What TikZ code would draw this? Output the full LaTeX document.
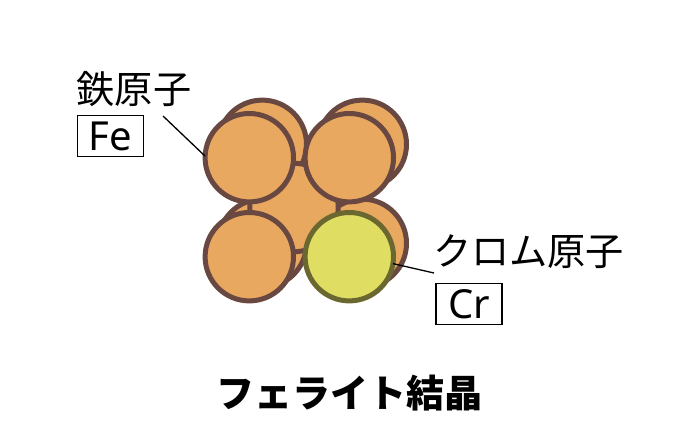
\documentclass[tikz,border=0pt]{standalone}
\usepackage{fontspec}
\setmainfont{Noto Sans}
\newfontfamily\cjk{Noto Sans CJK JP}
\definecolor{atomfe}{HTML}{E9A860}
\definecolor{edgefe}{HTML}{684840}
\definecolor{atomcr}{HTML}{DFDE62}
\definecolor{edgecr}{HTML}{6A6830}
\tikzset{
  atom/.style={circle,draw=edgefe,fill=atomfe,line width=5pt,minimum size=88.4pt,inner sep=0pt,outer sep=0pt},
  cratom/.style={atom,draw=edgecr,fill=atomcr},
  label jp/.style={inner sep=0pt,font=\fontsize{38.2}{38.2}\selectfont\cjk},
  title jp/.style={inner sep=0pt,font=\fontsize{38}{38}\selectfont\bfseries\cjk},
  elem/.style={draw=black,line width=1.1pt,minimum width=66pt,minimum height=40.5pt,inner sep=0pt,font=\fontsize{40}{40}\selectfont},
  leader/.style={draw=black,line width=1.3pt}
}
\begin{document}
\begin{tikzpicture}[x=1pt,y=-1pt]
\useasboundingbox (0,0) rectangle (700,440);
\node[atom] (b1) at (262.3,144.3) {};
\node[atom] (b2) at (362.3,144.3) {};
\node[atom] (b3) at (262.3,243.3) {};
\node[atom] (b4) at (362.3,243.3) {};
\node[atom] (ctr) at (294,207.5) {};
\node[atom] (f1) at (249.3,157.7) {};
\node[atom] (f2) at (349.3,157.7) {};
\node[atom] (f3) at (249.3,256.7) {};
\node[cratom] (cr) at (349.3,256.7) {};
\node[label jp] (fejp) at (134,89) {鉄原子};
\node[elem] (fe) at (110.5,136) {Fe};
\node[label jp] (crjp) at (528.5,252) {クロム原子};
\node[elem] (crb) at (469,304) {Cr};
\node[title jp] (ttl) at (349.5,393) {フェライト結晶};
\coordinate (fefree) at (163,116);
\coordinate (crfree) at (434,273);
\draw[leader] (fefree) -- (f1.178);
\draw[leader] (crfree) -- (cr.-9);
\end{tikzpicture}
\end{document}
